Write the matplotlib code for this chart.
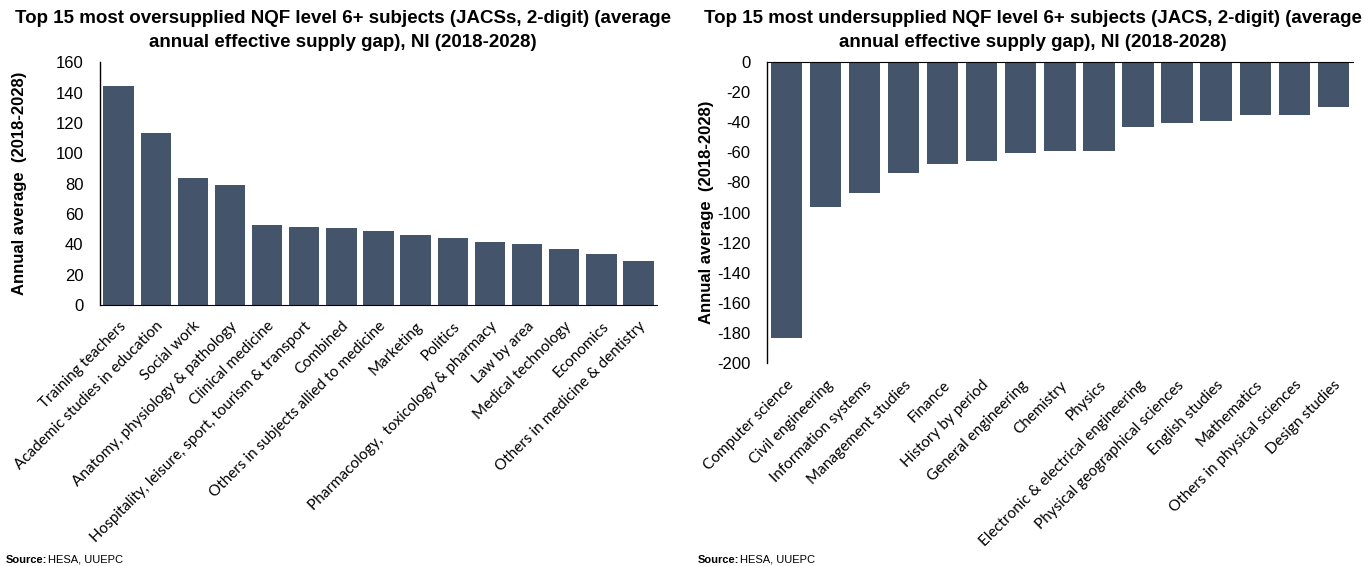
import matplotlib
matplotlib.use("Agg")
import matplotlib.pyplot as plt

plt.rcParams["axes.unicode_minus"] = False

# ── Data ──────────────────────────────────────────────────────────────────
over_subjects = ["Training teachers", "Academic studies in education", "Social work",
                 "Anatomy, physiology & pathology", "Clinical medicine",
                 "Hospitality, leisure, sport, tourism & transport", "Combined",
                 "Others in subjects allied to medicine", "Marketing", "Politics",
                 "Pharmacology,  toxicology & pharmacy", "Law by area",
                 "Medical technology", "Economics", "Others in medicine & dentistry"]
over_values = [144.4, 113.2, 83.8, 79.3, 52.6, 51.7, 50.8, 49.0, 46.2, 44.2,
               41.6, 40.3, 36.7, 33.6, 29.1]

under_subjects = ["Computer science", "Civil engineering", "Information systems",
                  "Management studies", "Finance", "History by period",
                  "General engineering", "Chemistry", "Physics",
                  "Electronic & electrical engineering", "Physical geographical sciences",
                  "English studies", "Mathematics", "Others in physical sciences",
                  "Design studies"]
under_values = [-183.2, -96.3, -86.8, -73.5, -67.8, -66.0, -60.2, -59.1, -59.1,
                -43.2, -40.3, -39.2, -35.4, -35.4, -29.7]

over_title = ("Top 15 most oversupplied NQF level 6+ subjects (JACSs, 2-digit) (average\n"
              "annual effective supply gap), NI (2018-2028)")
under_title = ("Top 15 most undersupplied NQF level 6+ subjects (JACS, 2-digit) (average\n"
               "annual effective supply gap), NI (2018-2028)")
ylabel = "Annual average  (2018-2028)"

BAR = "#44546A"
NARROW = ["Liberation Sans Narrow", "Liberation Sans", "DejaVu Sans"]
TICKFONT = ["Lato", "DejaVu Sans"]

fig = plt.figure(figsize=(13.65, 5.66), dpi=100)
ax1 = fig.add_axes([0.0733, 0.461, 0.408, 0.429])
ax2 = fig.add_axes([0.562, 0.359, 0.429, 0.531])


def style(ax, subjects):
    ax.set_xlim(-0.5, len(subjects) - 0.5)
    ax.set_xticks(range(len(subjects)))
    ax.set_xticklabels(subjects, rotation=45, ha="right", rotation_mode="anchor",
                       fontsize=11, family=TICKFONT)
    ax.tick_params(axis="both", length=0)
    ax.tick_params(axis="y", pad=12)
    for lab in ax.get_yticklabels():
        lab.set_family(NARROW)
        lab.set_fontsize(12)
    for s in ("top", "right", "bottom", "left"):
        ax.spines[s].set_visible(False)
    ax.spines["left"].set_visible(True)
    ax.spines["left"].set_color("black")
    ax.spines["left"].set_linewidth(1.0)
    ax.set_ylabel(ylabel, fontsize=12, fontweight="bold",
                  family=["Liberation Sans", "DejaVu Sans"])


# left chart: oversupplied
ax1.bar(range(len(over_values)), over_values, width=0.82, color=BAR)
ax1.set_ylim(0, 160)
ax1.set_yticks(range(0, 161, 20))
style(ax1, over_subjects)
ax1.spines["bottom"].set_visible(True)
ax1.spines["bottom"].set_color("black")
ax1.tick_params(axis="x", pad=10)
ax1.yaxis.set_label_coords(-0.132, 0.5)

# right chart: undersupplied
ax2.bar(range(len(under_values)), under_values, width=0.8, color=BAR)
ax2.set_ylim(-200, 0)
ax2.set_yticks(range(-200, 1, 20))
style(ax2, under_subjects)
ax2.spines["top"].set_visible(True)
ax2.spines["top"].set_color("black")
ax2.tick_params(axis="x", pad=11)
ax2.yaxis.set_label_coords(-0.09, 0.5)

# titles, centred a little left of each plot area
for x, title in ((343 / 1365, over_title), (1033 / 1365, under_title)):
    fig.text(x, 0.983, title, ha="center", va="top", fontsize=13.5,
             fontweight="bold", family=NARROW, linespacing=1.6)

# source notes
for x in (0.004, 0.511):
    fig.text(x, 0.006, "Source:", fontsize=8, fontweight="bold", family=NARROW)
    fig.text(x + 0.031, 0.006, "HESA, UUEPC", fontsize=8, family=NARROW)

fig.savefig("out.png", dpi=100)
